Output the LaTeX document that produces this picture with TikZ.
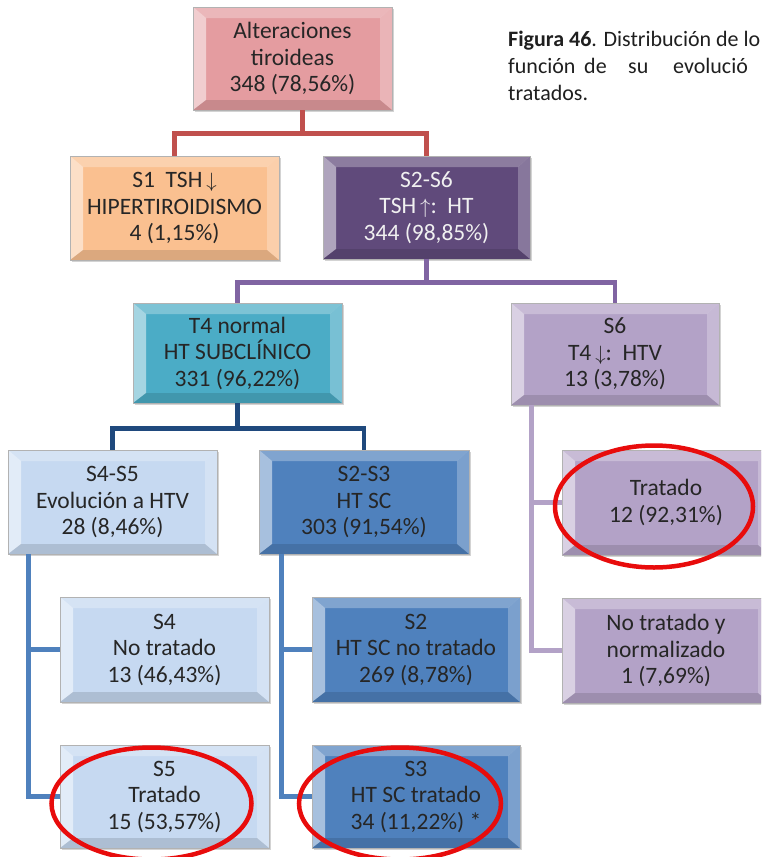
\documentclass[tikz,border=0pt]{standalone}
\usepackage{fontspec}
\setmainfont{Carlito}
\usetikzlibrary{shadows}

% box fills
\definecolor{cAlt}{RGB}{228,156,160}
\definecolor{cHiper}{RGB}{250,192,144}
\definecolor{cHT}{RGB}{96,74,123}
\definecolor{cSub}{RGB}{75,172,198}
\definecolor{cHTV}{RGB}{179,162,199}
\definecolor{cEvo}{RGB}{198,217,241}
\definecolor{cSC}{RGB}{79,129,189}
% connector colours
\definecolor{lRed}{RGB}{192,80,77}
\definecolor{lPurple}{RGB}{128,100,162}
\definecolor{lNavy}{RGB}{31,73,125}
\definecolor{lBlue}{RGB}{79,129,189}
\definecolor{lLilac}{RGB}{179,162,199}
\definecolor{txt}{RGB}{38,38,38}
\definecolor{mark}{RGB}{232,12,12}

% thin arrows, a little smaller than the box text
\newcommand\myDown{{\fontsize{21}{21}\selectfont$\downarrow$}}
\newcommand\myUp{{\fontsize{21}{21}\selectfont$\uparrow$}}

\tikzset{
  bevelbox/.style={
    rectangle, inner sep=0pt, align=center, text=txt,
    minimum width=209pt, minimum height=104pt,
    draw=black!30, line width=0.7pt,
    font=\fontsize{23.5}{26.5}\selectfont,
    drop shadow={shadow xshift=1.5pt, shadow yshift=-2pt, opacity=.35},
    path picture={
      % left bevel (highlight)
      \fill[white, opacity=.5]
        (path picture bounding box.south west) -- (path picture bounding box.north west)
        -- ([shift={(13pt,-11pt)}]path picture bounding box.north west)
        -- ([shift={(13pt,10pt)}]path picture bounding box.south west) -- cycle;
      % top bevel
      \fill[white, opacity=.28]
        (path picture bounding box.north west) -- (path picture bounding box.north east)
        -- ([shift={(-12pt,-11pt)}]path picture bounding box.north east)
        -- ([shift={(13pt,-11pt)}]path picture bounding box.north west) -- cycle;
      % right bevel
      \fill[white, opacity=.25]
        (path picture bounding box.north east) -- (path picture bounding box.south east)
        -- ([shift={(-12pt,10pt)}]path picture bounding box.south east)
        -- ([shift={(-12pt,-11pt)}]path picture bounding box.north east) -- cycle;
      % bottom bevel (shade)
      \fill[black, opacity=.12]
        (path picture bounding box.south west) -- (path picture bounding box.south east)
        -- ([shift={(-12pt,10pt)}]path picture bounding box.south east)
        -- ([shift={(13pt,10pt)}]path picture bounding box.south west) -- cycle;
    }},
  link/.style={line width=4.5pt, line cap=butt, line join=miter},
  ring/.style={draw=mark, line width=4.5pt},
  caption/.style={anchor=base west, inner sep=0pt, text=black!88,
    font=\fontsize{22}{27}\selectfont}
}

\begin{document}
\begin{tikzpicture}[x=1pt, y=-1pt]
\useasboundingbox (0,0) rectangle (761,857);
\clip (0,0) rectangle (761,857);

% ---- caption (justified lines, running past the right edge) ----
\node[caption] (cap1) at (508,46) {\textbf{Figura 46}. Distribución de lo};
\node[caption] (cap2a) at (508,73) {función};
\node[caption] (cap2b) at (584,73) {de};
\node[caption] (cap2c) at (628,73) {su};
\node[caption] (cap2d) at (673,73) {evolució};
\node[caption] (cap3) at (508,100) {tratados.};

% ---- boxes ----
\node[bevelbox, fill=cAlt, minimum width=199pt, minimum height=103pt] (alt) at (292.5,58.5)
  {Alteraciones\\tiroideas\\348 (78,56\%)};
\node[bevelbox, fill=cHiper] (s1) at (174.5,208)
  {S1\ \ TSH\,\myDown\\HIPERTIROIDISMO\\4 (1,15\%)};
\node[bevelbox, fill=cHT, text=white!94!black, minimum width=207pt, minimum height=103pt] (s26) at (426.5,207.5)
  {S2-S6\\TSH\,\myUp:\ \ HT\\344 (98,85\%)};
\node[bevelbox, fill=cSub, minimum height=100pt] (t4) at (237.5,353)
  {T4 normal\\HT SUBCLÍNICO\\331 (96,22\%)};
\node[bevelbox, fill=cHTV, minimum width=208pt, minimum height=102pt] (s6) at (615,354)
  {S6\\T4\,\myDown:\ \ HTV\\13 (3,78\%)};
\node[bevelbox, fill=cEvo] (s45) at (112.5,502)
  {S4-S5\\Evolución a HTV\\28 (8,46\%)};
\node[bevelbox, fill=cSC, minimum width=210pt] (s23) at (364,502)
  {S2-S3\\HT SC\\303 (91,54\%)};
\node[bevelbox, fill=cHTV, minimum width=208pt, minimum height=105pt] (t6a) at (666,502.5)
  {Tratado\\12 (92,31\%)};
\node[bevelbox, fill=cHTV, minimum width=208pt, minimum height=105pt] (t6b) at (666,650.5)
  {No tratado y\\normalizado\\1 (7,69\%)};
\node[bevelbox, fill=cEvo, minimum height=105pt] (s4) at (164.5,649.5)
  {S4\\No tratado\\13 (46,43\%)};
\node[bevelbox, fill=cSC, minimum width=208pt, minimum height=105pt] (s2) at (416,649.5)
  {S2\\HT SC no tratado\\269 (8,78\%)};
\node[bevelbox, fill=cEvo, minimum height=103pt] (s5) at (164.5,796.5)
  {S5\\Tratado\\15 (53,57\%)};
\node[bevelbox, fill=cSC, minimum width=208pt, minimum height=103pt] (s3) at (416,796.5)
  {S3\\HT SC tratado\\34 (11,22\%) *};

% ---- connectors ----
\draw[link, lRed] ([xshift=10pt]alt.south) -- ++(0,23) -| (s1.north);
\draw[link, lRed] ([xshift=10pt]alt.south) -- ++(0,23) -| (s26.north);

\draw[link, lPurple] (s26.south) -- ++(0,23) -| (t4.north);
\draw[link, lPurple] (s26.south) -- ++(0,23) -| (s6.north);

\draw[link, lNavy] (t4.south) -- ++(0,25) -| (s45.north);
\draw[link, lNavy] (t4.south) -- ++(0,25) -| (s23.north);

\draw[link, lBlue] ([xshift=21pt]s45.south west) |- (s4.west);
\draw[link, lBlue] ([xshift=21pt]s45.south west) |- (s5.west);

\draw[link, lBlue] ([xshift=23pt]s23.south west) |- (s2.west);
\draw[link, lBlue] ([xshift=23pt]s23.south west) |- (s3.west);

\draw[link, lLilac] ([xshift=21pt]s6.south west) |- (t6a.west);
\draw[link, lLilac] ([xshift=21pt]s6.south west) |- (t6b.west);

% ---- highlighted groups ----
\draw[ring] ([shift={(-12pt,-4pt)}]t6a.center) ellipse [x radius=99pt, y radius=61pt];
\draw[ring] ([shift={(-13pt,-7pt)}]s5.center) ellipse [x radius=100pt, y radius=56pt];
\draw[ring] ([shift={(-16pt,-7pt)}]s3.center) ellipse [x radius=101pt, y radius=56pt];
\end{tikzpicture}
\end{document}
